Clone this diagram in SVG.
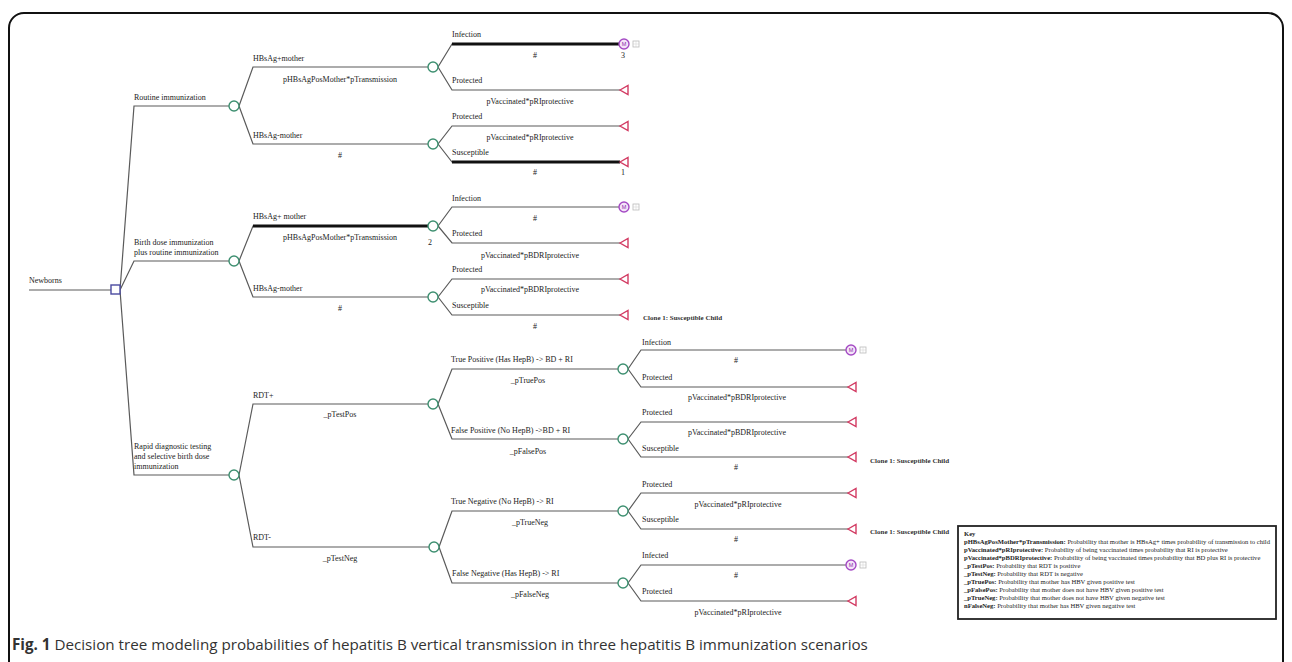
<svg xmlns="http://www.w3.org/2000/svg" width="1292" height="662" viewBox="0 0 1292 662">
<style>
.t{font-family:"Liberation Serif","Times New Roman",serif;font-size:8px;fill:#222}
.c{text-anchor:middle}
.cl{font-family:"Liberation Serif",serif;font-size:7px;font-weight:bold;fill:#333}
.k{font-family:"Liberation Serif",serif;font-size:6.6px;fill:#222}
.kb{font-weight:bold}
.ln{fill:none;stroke:#5a5a5a;stroke-width:1.2}
.thick{fill:none;stroke:#111;stroke-width:3}
.ch{fill:#fff;stroke:#3d8f70;stroke-width:1.4}
.tm{fill:#fff;stroke:#d23a62;stroke-width:1.4}
.mk{fill:#f4e4f8;stroke:#a44ac4;stroke-width:1.4}
.mt{font-family:"Liberation Sans",sans-serif;font-size:5.5px;fill:#8a2ca8;text-anchor:middle}
.gi{fill:#fff;stroke:#bbb;stroke-width:0.8}
.cap{font-family:"Open Sans","Liberation Sans",sans-serif;font-size:15.2px;fill:#333}
</style>
<rect width="1292" height="662" fill="#fff"/>
<path d="M9,664 L9,28 A15,15 0 0 1 24,13 L1268,13 A15,15 0 0 1 1283,28 L1283,664" fill="none" stroke="#111" stroke-width="2"/>

<g id="connectors">
<path class="ln" d="M29,290 L111,290"/>
<path class="ln" d="M120,290 L134,106 L229,106"/>
<path class="ln" d="M120,290 L134,261 L229,261"/>
<path class="ln" d="M120,290 L134,475 L229,475"/>
<path class="ln" d="M239,106 L253,67 L428,67"/>
<path class="ln" d="M239,106 L253,144 L428,144"/>
<path class="ln" d="M239,261 L253,226 L428,226"/>
<path class="ln" d="M239,261 L253,297 L428,297"/>
<path class="ln" d="M239,475 L253,404 L428,404"/>
<path class="ln" d="M239,475 L253,547 L429,547"/>
<path class="ln" d="M438,67 L452,44 L619,44"/>
<path class="ln" d="M438,67 L452,90 L620,90"/>
<path class="ln" d="M438,144 L452,126 L620,126"/>
<path class="ln" d="M438,144 L452,162 L620,162"/>
<path class="ln" d="M438,226 L452,207 L619,207"/>
<path class="ln" d="M438,226 L452,243 L620,243"/>
<path class="ln" d="M438,297 L452,279 L620,279"/>
<path class="ln" d="M438,297 L452,315 L620,315"/>
<path class="ln" d="M438,404 L452,369 L618,369"/>
<path class="ln" d="M438,404 L452,439 L618,439"/>
<path class="ln" d="M439,547 L452,511 L618,511"/>
<path class="ln" d="M439,547 L452,583 L618,583"/>
<path class="ln" d="M628,369 L641,350 L846,350"/>
<path class="ln" d="M628,369 L641,387 L848,387"/>
<path class="ln" d="M628,439 L641,422 L848,422"/>
<path class="ln" d="M628,439 L641,457 L848,457"/>
<path class="ln" d="M628,511 L641,493 L848,493"/>
<path class="ln" d="M628,511 L641,529 L848,529"/>
<path class="ln" d="M628,583 L641,565 L846,565"/>
<path class="ln" d="M628,583 L641,601 L848,601"/>
<path class="thick" d="M452,44 L619,44"/>
<path class="thick" d="M452,162 L620,162"/>
<path class="thick" d="M253,226 L428,226"/>
</g>

<g id="newborns">
<text class="t" x="29" y="283">Newborns</text>
<rect x="111" y="285" width="9" height="9" fill="#fff" stroke="#4a4aa0" stroke-width="1.4"/>
</g>

<g id="routine">
<text class="t" x="134" y="100">Routine immunization</text>
<circle class="ch" cx="234" cy="106" r="5"/>
</g>
<g id="birthdose">
<text class="t" x="134" y="245">Birth dose immunization</text>
<text class="t" x="134" y="255">plus routine immunization</text>
<circle class="ch" cx="234" cy="261" r="5"/>
</g>
<g id="rdt">
<text class="t" x="134" y="449">Rapid diagnostic testing</text>
<text class="t" x="134" y="459">and selective birth dose</text>
<text class="t" x="134" y="469">immunization</text>
<circle class="ch" cx="234" cy="475" r="5"/>
</g>

<g id="ri-pos">
<text class="t" x="253" y="61">HBsAg+mother</text>
<text class="t c" x="340" y="82">pHBsAgPosMother*pTransmission</text>
<circle class="ch" cx="433" cy="67" r="5"/>
</g>
<g id="ri-neg">
<text class="t" x="253" y="138">HBsAg-mother</text>
<text class="t c" x="340" y="158">#</text>
<circle class="ch" cx="433" cy="144" r="5"/>
</g>
<g id="bd-pos">
<text class="t" x="253" y="219">HBsAg+ mother</text>
<text class="t c" x="340" y="240">pHBsAgPosMother*pTransmission</text>
<circle class="ch" cx="433" cy="226" r="5"/>
<text class="t c" x="430" y="245">2</text>
</g>
<g id="bd-neg">
<text class="t" x="253" y="291">HBsAg-mother</text>
<text class="t c" x="340" y="311">#</text>
<circle class="ch" cx="433" cy="297" r="5"/>
</g>
<g id="rdt-pos">
<text class="t" x="253" y="398">RDT+</text>
<text class="t c" x="340" y="417">_pTestPos</text>
<circle class="ch" cx="433" cy="404" r="5"/>
</g>
<g id="rdt-neg">
<text class="t" x="253" y="540">RDT-</text>
<text class="t c" x="340" y="561">_pTestNeg</text>
<circle class="ch" cx="434" cy="547" r="5"/>
</g>

<g id="ri-pos-inf">
<text class="t" x="452" y="37">Infection</text>
<text class="t c" x="535" y="58">#</text>
<circle class="mk" cx="624" cy="44" r="5"/><text class="mt" x="624" y="46">M</text>
<rect class="gi" x="633" y="41" width="6" height="6"/><path d="M633,44h6M636,41v6" stroke="#ccc" stroke-width="0.5"/>
<text class="t c" x="623" y="58">3</text>
</g>
<g id="ri-pos-prot">
<text class="t" x="452" y="83">Protected</text>
<text class="t c" x="530" y="104">pVaccinated*pRIprotective</text>
<polygon class="tm" points="620,90 628,85.5 628,94.5"/>
</g>
<g id="ri-neg-prot">
<text class="t" x="452" y="119">Protected</text>
<text class="t c" x="530" y="140">pVaccinated*pRIprotective</text>
<polygon class="tm" points="620,126 628,121.5 628,130.5"/>
</g>
<g id="ri-neg-sus">
<text class="t" x="452" y="155">Susceptible</text>
<text class="t c" x="535" y="175">#</text>
<polygon class="tm" points="620,162 628,157.5 628,166.5"/>
<text class="t c" x="623" y="175">1</text>
</g>
<g id="bd-pos-inf">
<text class="t" x="452" y="201">Infection</text>
<text class="t c" x="535" y="221">#</text>
<circle class="mk" cx="624" cy="207" r="5"/><text class="mt" x="624" y="209">M</text>
<rect class="gi" x="633" y="204" width="6" height="6"/><path d="M633,207h6M636,204v6" stroke="#ccc" stroke-width="0.5"/>
</g>
<g id="bd-pos-prot">
<text class="t" x="452" y="236">Protected</text>
<text class="t c" x="530" y="258">pVaccinated*pBDRIprotective</text>
<polygon class="tm" points="620,243 628,238.5 628,247.5"/>
</g>
<g id="bd-neg-prot">
<text class="t" x="452" y="272">Protected</text>
<text class="t c" x="530" y="292">pVaccinated*pBDRIprotective</text>
<polygon class="tm" points="620,279 628,274.5 628,283.5"/>
</g>
<g id="bd-neg-sus">
<text class="t" x="452" y="308">Susceptible</text>
<text class="t c" x="535" y="329">#</text>
<polygon class="tm" points="620,315 628,310.5 628,319.5"/>
<text class="cl" x="643" y="320">Clone 1: Susceptible Child</text>
</g>

<g id="true-pos">
<text class="t" x="451" y="362">True Positive (Has HepB) -&gt; BD + RI</text>
<text class="t c" x="528" y="383">_pTruePos</text>
<circle class="ch" cx="623" cy="369" r="5"/>
</g>
<g id="false-pos">
<text class="t" x="451" y="433">False Positive (No HepB) -&gt;BD + RI</text>
<text class="t c" x="528" y="454">_pFalsePos</text>
<circle class="ch" cx="623" cy="439" r="5"/>
</g>
<g id="true-neg">
<text class="t" x="451" y="504">True Negative (No HepB) -&gt; RI</text>
<text class="t c" x="530" y="525">_pTrueNeg</text>
<circle class="ch" cx="623" cy="511" r="5"/>
</g>
<g id="false-neg">
<text class="t" x="452" y="576">False Negative (Has HepB) -&gt; RI</text>
<text class="t c" x="530" y="597">_pFalseNeg</text>
<circle class="ch" cx="623" cy="583" r="5"/>
</g>

<g id="tp-inf">
<text class="t" x="642" y="345">Infection</text>
<text class="t c" x="736" y="363">#</text>
<circle class="mk" cx="851" cy="350" r="5"/><text class="mt" x="851" y="352">M</text>
<rect class="gi" x="860" y="347" width="6" height="6"/><path d="M860,350h6M863,347v6" stroke="#ccc" stroke-width="0.5"/>
</g>
<g id="tp-prot">
<text class="t" x="642" y="380">Protected</text>
<text class="t c" x="737" y="400">pVaccinated*pBDRIprotective</text>
<polygon class="tm" points="848,387 856,382.5 856,391.5"/>
</g>
<g id="fp-prot">
<text class="t" x="642" y="415">Protected</text>
<text class="t c" x="737" y="435">pVaccinated*pBDRIprotective</text>
<polygon class="tm" points="848,422 856,417.5 856,426.5"/>
</g>
<g id="fp-sus">
<text class="t" x="642" y="451">Susceptible</text>
<text class="t c" x="736" y="470">#</text>
<polygon class="tm" points="848,457 856,452.5 856,461.5"/>
<text class="cl" x="870" y="463">Clone 1: Susceptible Child</text>
</g>
<g id="tn-prot">
<text class="t" x="642" y="487">Protected</text>
<text class="t c" x="738" y="507">pVaccinated*pRIprotective</text>
<polygon class="tm" points="848,493 856,488.5 856,497.5"/>
</g>
<g id="tn-sus">
<text class="t" x="642" y="522">Susceptible</text>
<text class="t c" x="736" y="542">#</text>
<polygon class="tm" points="848,529 856,524.5 856,533.5"/>
<text class="cl" x="870" y="534">Clone 1: Susceptible Child</text>
</g>
<g id="fn-inf">
<text class="t" x="642" y="558">Infected</text>
<text class="t c" x="736" y="578">#</text>
<circle class="mk" cx="851" cy="565" r="5"/><text class="mt" x="851" y="567">M</text>
<rect class="gi" x="860" y="562" width="6" height="6"/><path d="M860,565h6M863,562v6" stroke="#ccc" stroke-width="0.5"/>
</g>
<g id="fn-prot">
<text class="t" x="642" y="594">Protected</text>
<text class="t c" x="738" y="615">pVaccinated*pRIprotective</text>
<polygon class="tm" points="848,601 856,596.5 856,605.5"/>
</g>

<g id="key">
<rect x="958" y="526" width="318" height="93" fill="#fff" stroke="#222" stroke-width="1.8"/>
<text class="k kb" x="964" y="536">Key</text>
<text class="k" x="964" y="544"><tspan class="kb">pHBsAgPosMother*pTransmission:</tspan> Probability that mother is HBsAg+ times probability of transmission to child</text>
<text class="k" x="964" y="552"><tspan class="kb">pVaccinated*pRIprotective:</tspan> Probability of being vaccinated times probability that RI is protective</text>
<text class="k" x="964" y="560"><tspan class="kb">pVaccinated*pBDRIprotective:</tspan> Probability of being vaccinated times probability that BD plus RI is protective</text>
<text class="k" x="964" y="568"><tspan class="kb">_pTestPos:</tspan> Probability that RDT is positive</text>
<text class="k" x="964" y="576"><tspan class="kb">_pTestNeg:</tspan> Probability that RDT is negative</text>
<text class="k" x="964" y="584"><tspan class="kb">_pTruePos:</tspan> Probability that mother has HBV given positive test</text>
<text class="k" x="964" y="592"><tspan class="kb">_pFalsePos:</tspan> Probability that mother does not have HBV given positive test</text>
<text class="k" x="964" y="600"><tspan class="kb">_pTrueNeg:</tspan> Probability that mother does not have HBV given negative test</text>
<text class="k" x="964" y="608"><tspan class="kb">nFalseNeg:</tspan> Probability that mother has HBV given negative test</text>
</g>

<text class="cap" x="12" y="650"><tspan font-weight="bold">Fig. 1</tspan> Decision tree modeling probabilities of hepatitis B vertical transmission in three hepatitis B immunization scenarios</text>
</svg>
